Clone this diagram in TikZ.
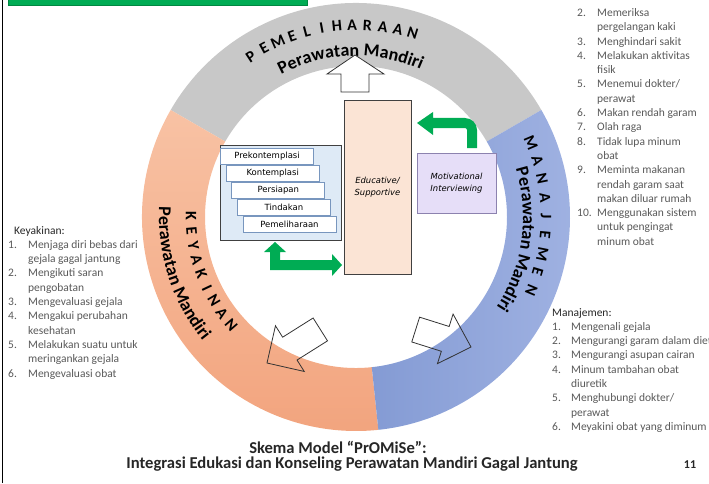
\documentclass[tikz,border=0pt]{standalone}
\usepackage{fontspec}
\setmainfont{Carlito}
\newfontfamily\boxfont{DejaVu Sans}
\usetikzlibrary{decorations.text}
\definecolor{ringgray}{RGB}{200,200,200}
\definecolor{ringorange}{RGB}{242,164,126}
\definecolor{ringorangelt}{RGB}{248,194,164}
\definecolor{ringblue}{RGB}{132,155,212}
\definecolor{ringbluelt}{RGB}{160,178,226}
\definecolor{arrgreen}{RGB}{0,172,84}
\definecolor{barborder}{RGB}{0,135,65}
\definecolor{listgray}{RGB}{89,89,89}
\definecolor{headgray}{RGB}{38,38,38}
\definecolor{edufill}{RGB}{251,228,213}
\definecolor{motfill}{RGB}{230,222,248}
\definecolor{motdraw}{RGB}{140,130,175}
\definecolor{stagefill}{RGB}{222,234,246}
\definecolor{stagedraw}{RGB}{120,150,190}
\newcommand\ringbig{\fontsize{18}{18}\selectfont\bfseries}

\begin{document}
\begin{tikzpicture}[x=1pt,y=1pt,
    every node/.style={inner sep=0pt},
    listtext/.style={anchor=base west,text=listgray,font=\fontsize{11.5}{14.3}\selectfont},
    ringcap/.style={font=\fontsize{16}{16}\selectfont\bfseries},
    openarr/.style={draw=black!80,line width=0.8pt},
    greenarr/.style={fill=arrgreen},
    box/.style={draw=black!75,line width=0.8pt},
    edubox/.style={box,fill=edufill,minimum width=67pt,minimum height=174pt,align=center,
      font=\boxfont\itshape\fontsize{8.4}{12.5}\selectfont},
    mibox/.style={draw=motdraw,line width=0.8pt,fill=motfill,minimum width=79pt,minimum height=60pt,
      align=center,font=\boxfont\itshape\fontsize{8.4}{12.5}\selectfont},
    stagebox/.style={box,fill=stagefill,minimum width=121pt,minimum height=95pt},
    stage/.style={draw=stagedraw,line width=0.8pt,fill=white,minimum width=93pt,minimum height=16pt,
      font=\boxfont\fontsize{8.5}{10}\selectfont},
    titletext/.style={anchor=base,text=headgray,font=\fontsize{16.6}{18}\selectfont\bfseries}]
  \useasboundingbox (0,0) rectangle (709,483);
  \fill[arrgreen,draw=barborder,line width=0.8pt] (8,477.5) rectangle (307,486);
  \draw[line width=1.2pt] (2.5,0) -- (2.5,483);

  \begin{scope}[shift={(356,266)}]
    \fill[ringgray] (30:214) arc[start angle=30,end angle=150,radius=214]
      -- (150:151) arc[start angle=150,end angle=30,radius=151] -- cycle;
    \shade[top color=ringorangelt,bottom color=ringorange] (150:214) arc[start angle=150,end angle=276,radius=214]
      -- (276:151) arc[start angle=276,end angle=150,radius=151] -- cycle;
    \shade[left color=ringblue,right color=ringbluelt] (276:214) arc[start angle=276,end angle=390,radius=214]
      -- (30:151) arc[start angle=390,end angle=276,radius=151] -- cycle;

    \foreach \ch [count=\i] in {P,E,M,E,L,I,H,A,R,A,A,N}
      \node[ringcap,rotate={123.2-4.58*(\i-1)-90}] (p\i) at ({123.2-4.58*(\i-1)}:192) {\ch};
    \path[decorate,decoration={text along path,text align=center,text={|\ringbig|Perawatan Mandiri}}]
      (150:161) arc[start angle=150,end angle=34,radius=161];

    \foreach \ch [count=\i] in {K,E,Y,A,K,I,N,A,N}
      \node[ringcap,rotate={179.7+5.14*(\i-1)+90}] (k\i) at ({179.7+5.14*(\i-1)}:165) {\ch};
    \path[decorate,decoration={text along path,text align=center,text={|\ringbig|Perawatan Mandiri}}]
      (170:197) arc[start angle=170,end angle=226,radius=197];

    \foreach \ch [count=\i] in {M,A,N,A,J,E,M,E,N}
      \node[ringcap,rotate={23-5.7*(\i-1)-90}] (m\i) at ({23-5.7*(\i-1)}:190) {\ch};
    \path[decorate,decoration={text along path,text align=center,text={|\ringbig|Perawatan Mandiri}}]
      (20:167) arc[start angle=20,end angle=-36,radius=167];
  \end{scope}

  \draw[openarr,fill=white] (355,428) -- (384,409) -- (369,409) -- (369,391) -- (341,391) -- (341,409) -- (327,409) -- cycle;
  \draw[openarr,shift={(267,120)},rotate=212.2] (0,0) -- (-27,27) -- (-27,13.5) -- (-63,13.5)
    -- (-63,-13.5) -- (-27,-13.5) -- (-27,-27) -- cycle;
  \draw[openarr,shift={(471,136)},rotate=-17.5] (0,0) -- (-27,26) -- (-27,13) -- (-58,13)
    -- (-58,-13) -- (-27,-13) -- (-27,-26) -- cycle;

  \node[stagebox] (stages) at (280.5,290.5) {};
  \foreach \lbl [count=\i] in {Prekontemplasi,Kontemplasi,Persiapan,Tindakan,Pemeliharaan}
    \node[stage] (s\i) at (261.5+5.6*\i,344.2-17.2*\i) {\lbl};
  \node[edubox] (edu) at (377.5,296) {Educative/\\Supportive};
  \node[mibox] (mi) at (456.5,300) {Motivational\\Interviewing};

  \fill[greenarr] (275,241) -- (286,231) -- (280,231) -- (280,223) -- (332,223) -- (332,229) -- (342,218)
    -- (332,207) -- (332,213) -- (270,213) -- (270,231) -- (264,231) -- cycle;
  \fill[greenarr] (417,360) -- (433,371) -- (433,365) -- (465,365) arc[start angle=90,end angle=0,radius=12]
    -- (477,335) -- (467,335) -- (467,353) arc[start angle=0,end angle=90,radius=2]
    -- (433,355) -- (433,348) -- cycle;

  \node[listtext] (rlist) at (577,466.5) {\begin{tabular}[t]{@{}p{20pt}@{}l@{}}
    2. & Memeriksa\\
       & pergelangan kaki\\
    3. & Menghindari sakit\\
    4. & Melakukan aktivitas\\
       & fisik\\
    5. & Menemui dokter/\\
       & perawat\\
    6. & Makan rendah garam\\
    7. & Olah raga\\
    8. & Tidak lupa minum\\
       & obat\\
    9. & Meminta makanan\\
       & rendah garam saat\\
       & makan diluar rumah\\
    10. & Menggunakan sistem\\
       & untuk pengingat\\
       & minum obat
  \end{tabular}};

  \node[listtext] (klist) at (8,249) {\begin{tabular}[t]{@{}p{20pt}@{}l@{}}
    \multicolumn{2}{@{}l@{}}{\hspace{6pt}\textcolor{headgray}{Keyakinan:}}\\
    1. & Menjaga diri bebas dari\\
       & gejala gagal jantung\\
    2. & Mengikuti saran\\
       & pengobatan\\
    3. & Mengevaluasi gejala\\
    4. & Mengakui perubahan\\
       & kesehatan\\
    5. & Melakukan suatu untuk\\
       & meringankan gejala\\
    6. & Mengevaluasi obat
  \end{tabular}};

  \node[listtext] (mlist) at (552,167) {\begin{tabular}[t]{@{}p{19pt}@{}l@{}}
    \multicolumn{2}{@{}l@{}}{\textcolor{headgray}{Manajemen:}}\\
    1. & Mengenali gejala\\
    2. & Mengurangi garam dalam diet\\
    3. & Mengurangi asupan cairan\\
    4. & Minum tambahan obat\\
       & diuretik\\
    5. & Menghubungi dokter/\\
       & perawat\\
    6. & Meyakini obat yang diminum
  \end{tabular}};

  \node[titletext] (t1) at (338,30) {Skema Model “PrOMiSe”:};
  \node[titletext] (t2) at (352,15) {Integrasi Edukasi dan Konseling Perawatan Mandiri Gagal Jantung};
  \node[titletext,font=\fontsize{12}{14}\selectfont\bfseries] (pg) at (690,15) {11};
\end{tikzpicture}
\end{document}
